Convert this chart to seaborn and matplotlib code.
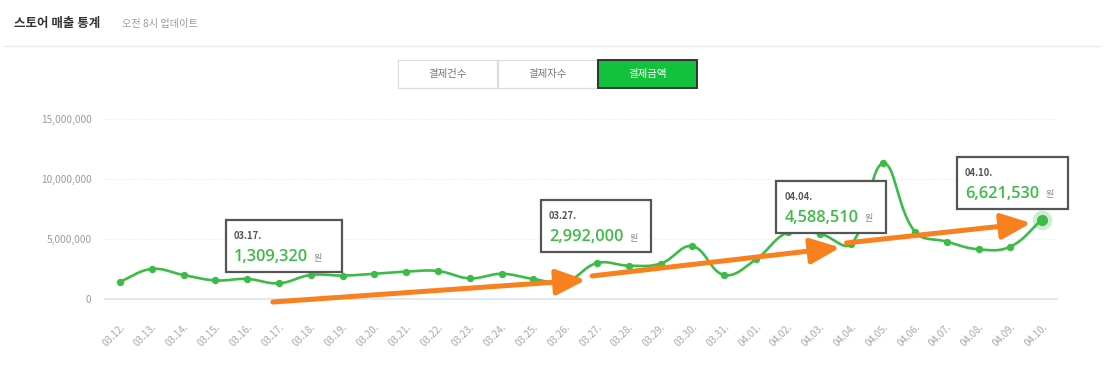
import numpy as np
import pandas as pd
import seaborn as sns
import matplotlib.pyplot as plt
from matplotlib.patches import Rectangle, FancyArrowPatch
from matplotlib.transforms import IdentityTransform

# data
dates = ["03.12.", "03.13.", "03.14.", "03.15.", "03.16.", "03.17.", "03.18.", "03.19.",
         "03.20.", "03.21.", "03.22.", "03.23.", "03.24.", "03.25.", "03.26.", "03.27.",
         "03.28.", "03.29.", "03.30.", "03.31.", "04.01.", "04.02.", "04.03.", "04.04.",
         "04.05.", "04.06.", "04.07.", "04.08.", "04.09.", "04.10."]
sales = [1440000, 2500000, 2000000, 1550000, 1670000, 1309320, 2000000, 1950000,
         2100000, 2280000, 2330000, 1720000, 2100000, 1670000, 1400000, 2992000,
         2780000, 2950000, 4400000, 2000000, 3300000, 5550000, 5450000, 4588510,
         11300000, 5600000, 4780000, 4140000, 4360000, 6621530]

y_ticks = [0, 5000000, 10000000, 15000000]
tooltip_dates = ["03.17.", "03.27.", "04.04.", "04.10."]
# trend arrows: (start date, start value, end date, end value)
trend_start_dates = ["03.17.", "03.27.", "04.04."]
trend_start_vals = [-250000, 1920000, 4670000]
trend_end_dates = ["03.26.", "04.03.", "04.09."]
trend_end_vals = [1580000, 4290000, 6330000]

tabs = ["결제건수", "결제자수", "결제금액"]

df = pd.DataFrame({"date": dates, "sales": sales})
df["i"] = np.arange(len(df))
pos = {d: k for k, d in enumerate(dates)}

GREEN = "#3dbb48"
ORANGE = "#f8801f"

sns.set_theme(style="white")
plt.rcParams["font.family"] = ["Noto Sans CJK KR", "DejaVu Sans"]

W, H = 1109, 378
fig = plt.figure(figsize=(W / 100, H / 100), dpi=100)
ax = fig.add_axes([104 / W, (H - 305) / H, 954 / W, 205 / H])
ax.set_xlim(-0.5, 29.5)
ax.set_ylim(-500000, 16580000)


# chart.js style smoothed line (tension 0.4), computed in pixel space
def smooth(xs, ys, t=0.4, sx=31.8, sy=12e-6, n=20):
    P = np.column_stack([np.asarray(xs) * sx, np.asarray(ys) * sy])
    m = len(P)
    cp_prev = np.zeros_like(P)
    cp_next = np.zeros_like(P)
    for k in range(m):
        p0 = P[max(k - 1, 0)]
        p1 = P[k]
        p2 = P[min(k + 1, m - 1)]
        d01 = np.hypot(*(p1 - p0))
        d12 = np.hypot(*(p2 - p1))
        tot = d01 + d12
        s01 = d01 / tot if tot else 0
        s12 = d12 / tot if tot else 0
        cp_prev[k] = p1 - t * s01 * (p2 - p0)
        cp_next[k] = p1 + t * s12 * (p2 - p0)
    out = []
    tt = np.linspace(0, 1, n)[:, None]
    for k in range(m - 1):
        a, b, c, d = P[k], cp_next[k], cp_prev[k + 1], P[k + 1]
        seg = (1 - tt) ** 3 * a + 3 * (1 - tt) ** 2 * tt * b + 3 * (1 - tt) * tt ** 2 * c + tt ** 3 * d
        out.append(seg if k == 0 else seg[1:])
    out = np.vstack(out)
    return out[:, 0] / sx, out[:, 1] / sy


sx_, sy_ = smooth(df["i"], df["sales"])
sns.lineplot(x=sx_, y=sy_, sort=False, color=GREEN, lw=1.9, ax=ax, zorder=3)
sns.scatterplot(data=df.iloc[:-1], x="i", y="sales", color=GREEN, s=28, linewidth=0, ax=ax, zorder=4)
last = df.iloc[-1:]
sns.scatterplot(data=last, x="i", y="sales", color=GREEN, s=200, alpha=0.25, linewidth=0, ax=ax, zorder=4)
sns.scatterplot(data=last, x="i", y="sales", color=GREEN, s=64, linewidth=0, ax=ax, zorder=5)

# grid / axes
for yt in y_ticks[1:]:
    ax.axhline(yt, color="#e6e6e6", lw=0.8, ls=(0, (1, 2)), zorder=0)
ax.axhline(0, color="#dfe5f0", lw=1.3, zorder=1)
sns.despine(ax=ax, left=True, bottom=True)
ax.set_yticks(y_ticks)
ax.set_yticklabels([f"{v:,}" for v in y_ticks], fontsize=7.3, color="#9a9a9a")
ax.set_xticks(df["i"])
ax.set_xticklabels(dates, rotation=45, ha="right", va="top", rotation_mode="anchor",
                   fontsize=7, color="#a8a8a8")
ax.tick_params(axis="x", length=0, pad=12)
ax.tick_params(axis="y", length=0, pad=9)
ax.set_xlabel("")
ax.set_ylabel("")
ax.grid(False)

# trend arrows
for sd, sv, ed, ev in zip(trend_start_dates, trend_start_vals, trend_end_dates, trend_end_vals):
    xs = pos[sd] - 0.19 if sd == "03.17." else pos[sd] - 0.15
    arr = FancyArrowPatch((xs, sv), (pos[ed] + 0.65, ev),
                          arrowstyle="-|>,head_length=18,head_width=7.8",
                          mutation_scale=1, lw=3.6, color=ORANGE,
                          shrinkA=0, shrinkB=0, capstyle="round",
                          clip_on=False, zorder=6)
    ax.add_patch(arr)

# tooltips
fig.canvas.draw()
box_dx = [-53, -56, -75, -85]
box_w = [116, 110, 110, 111]
for d, dx, bw in zip(tooltip_dates, box_dx, box_w):
    v = sales[pos[d]]
    px, py = ax.transData.transform((pos[d], v))
    left = px + dx
    bottom = py + 11
    bh = 52
    rect = Rectangle((left, bottom), bw, bh, transform=IdentityTransform(),
                     facecolor="white", edgecolor="#555555", lw=1.6, zorder=7)
    fig.add_artist(rect)
    fig.text(left + 8, bottom + bh - 16, d, transform=IdentityTransform(),
             fontsize=6.8, fontweight="bold", color="#555555", va="center", zorder=8)
    vt = fig.text(left + 8, bottom + bh - 37, f"{v:,}", transform=IdentityTransform(),
                  fontsize=11.8, fontweight="semibold", family=["Open Sans", "DejaVu Sans"],
                  color=GREEN, va="center", zorder=8)
    fig.canvas.draw()
    ext = vt.get_window_extent()
    fig.text(ext.x1 + 6, bottom + bh - 38, "원", transform=IdentityTransform(),
             fontsize=6.5, color="#888888", va="center", zorder=8)

# header
fig.text(14 / W, 1 - 24 / H, "스토어 매출 통계", fontsize=9, fontweight="bold",
         color="#333333", va="center")
fig.text(122 / W, 1 - 24 / H, "오전 8시 업데이트", fontsize=7.3, color="#9a9a9a", va="center")
fig.add_artist(plt.Line2D([4 / W, 1100 / W], [1 - 46 / H, 1 - 46 / H], color="#e9e9ef", lw=1))

# tab buttons
tab_x = [398, 498, 598]
for k, (name, x0) in enumerate(zip(tabs, tab_x)):
    active = k == len(tabs) - 1
    r = Rectangle((x0 / W, 1 - 88 / H), 99 / W, 28 / H, transform=fig.transFigure,
                  facecolor="#12c13c" if active else "white",
                  edgecolor="#333333" if active else "#dddddd",
                  lw=1.4 if active else 0.9, zorder=3 if active else 2)
    fig.add_artist(r)
    fig.text((x0 + 49.5) / W, 1 - 74 / H, name, ha="center", va="center", fontsize=7.5,
             color="white" if active else "#777777", zorder=4)

fig.savefig("out.png", dpi=100)
